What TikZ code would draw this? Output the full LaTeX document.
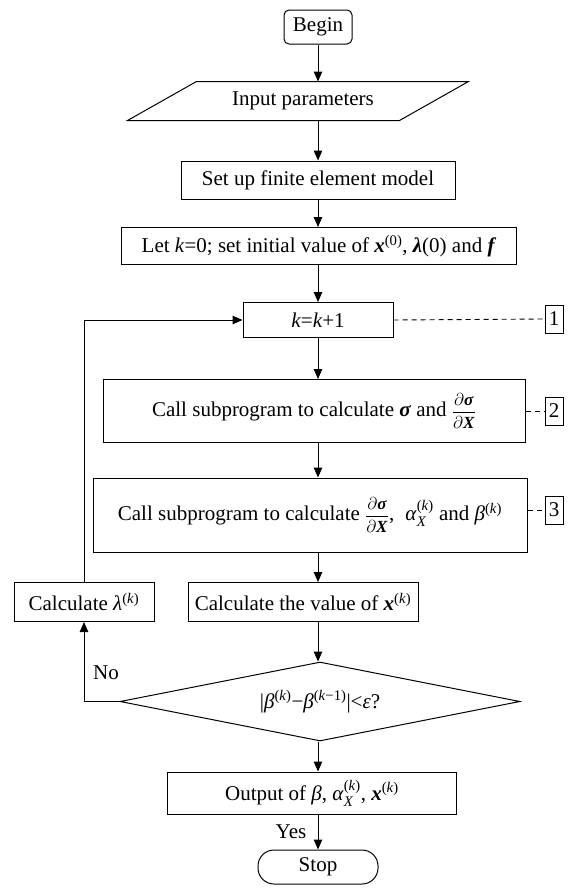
\documentclass[tikz,border=0pt]{standalone}
\usepackage{fontspec}
\setmainfont{Liberation Serif}
\usepackage{amsmath}
\usetikzlibrary{shapes.geometric,arrows.meta}
\newcommand{\bvec}[1]{\textbf{\textit{#1}}}
\newcommand{\ivar}[1]{\textit{#1}}
\newcommand{\supk}{\textsuperscript{(\ivar{k})}}
\newcommand{\dsig}{{\fontsize{17}{17}\selectfont$\dfrac{\partial\text{\bvec{σ}}}{\partial\text{\bvec{X}}}$}}
\newcommand{\alk}{$\text{\ivar{α}}^{\text{(\ivar{k})}}_{\text{\ivar{X}}}$}
\tikzset{
    flow-box/.style = {draw, rectangle, inner sep=0pt},
    end-box/.style = {draw, rectangle, rounded corners=5pt, inner sep=0pt},
    io-box/.style = {rectangle, inner sep=0pt},
    test-box/.style = {draw, diamond, aspect=5, inner sep=0pt},
    num-box/.style = {draw, rectangle, minimum width=18pt, minimum height=28pt, inner sep=0pt},
    link-dash/.style = {dash pattern=on 5pt off 4pt, line width=0.9pt},
}

\begin{document}
\begin{tikzpicture}[x=1pt, y=-1pt, font=\fontsize{21}{25}\selectfont, line width=1pt, >={Triangle[length=10pt,width=8.5pt]}]
\useasboundingbox (0,0) rectangle (571,889);
% main column
\node[end-box, minimum width=68pt, minimum height=34pt] (begin) at (318,27) {Begin};
\node[io-box, minimum width=272pt, minimum height=38pt] (input) at (298,101) {\hspace{10pt}Input parameters};
\draw ([xshift=-34pt]input.south west) -- ([xshift=35pt]input.north west)
   -- ([xshift=34pt]input.north east) -- ([xshift=-35pt]input.south east) -- cycle;
\node[flow-box, minimum width=274pt, minimum height=38pt] (fem) at (318,180) {Set up finite element model};
\node[flow-box, minimum width=395pt, minimum height=37pt] (init) at (319,246) {Let \ivar{k}=0; set initial value of \bvec{x}\textsuperscript{(0)}, \bvec{λ}(0) and \bvec{f}};
\node[flow-box, minimum width=150pt, minimum height=35pt] (kk) at (318,320) {\ivar{k}=\ivar{k}+1};
\node[flow-box, minimum width=422pt, minimum height=63pt] (call1) at (314,411) {Call subprogram to calculate \bvec{σ} and \dsig};
\node[flow-box, minimum width=434pt, minimum height=74pt] (call2) at (310,515) {Call subprogram to calculate \dsig,\; \alk{} and \ivar{β}\supk};
\node[flow-box, minimum width=140pt, minimum height=39pt] (lam) at (84,602) {Calculate \ivar{λ}\supk};
\node[flow-box, minimum width=230pt, minimum height=39pt] (val) at (303,602) {Calculate the value of \bvec{x}\supk};
\node[test-box, minimum width=400pt, minimum height=79pt] (dia) at (320,701.5) {|\ivar{β}\supk−\ivar{β}\textsuperscript{(\ivar{k}−1)}|<\ivar{ε}?};
\node[flow-box, minimum width=289pt, minimum height=42pt] (out) at (312,793) {Output of \ivar{β}, \alk, \bvec{x}\supk};
\node[end-box, rounded corners=16pt, minimum width=120pt, minimum height=34pt] (stop) at (318,867) {Stop};
% side marks
\node[num-box] (n1) at (554,319) {1};
\node[num-box] (n2) at (554,411) {2};
\node[num-box] (n3) at (554,510) {3};
\node (no) at (106,673) {No};
\node (yes) at (291,832) {Yes};
% connectors
\draw[->] (begin.south) -- (begin.south |- input.north);
\draw[->] (input.south -| fem.north) -- (fem.north);
\draw[->] (fem.south) -- (init.north -| fem.south);
\draw[->] (init.south -| kk.north) -- (kk.north);
\draw[->] (kk.south) -- (call1.north -| kk.south);
\draw[->] (call1.south -| kk.south) -- (call2.north -| kk.south);
\draw[->] (call2.south -| kk.south) -- (val.north -| kk.south);
\draw[->] (val.south -| kk.south) -- (dia.north -| kk.south);
\draw[->] (dia.south -| kk.south) -- (out.north -| kk.south);
\draw[->] (out.south -| kk.south) -- (stop.north);
\draw[->] (dia.west) -- (dia.west -| lam.south) -- (lam.south);
\draw[->] (lam.north) |- (kk.west);
\draw[link-dash] (kk.east) -- (n1.west);
\draw[link-dash] (call1.east) -- (n2.west);
\draw[link-dash] (call2.east |- n3.west) -- (n3.west);
\end{tikzpicture}
\end{document}
